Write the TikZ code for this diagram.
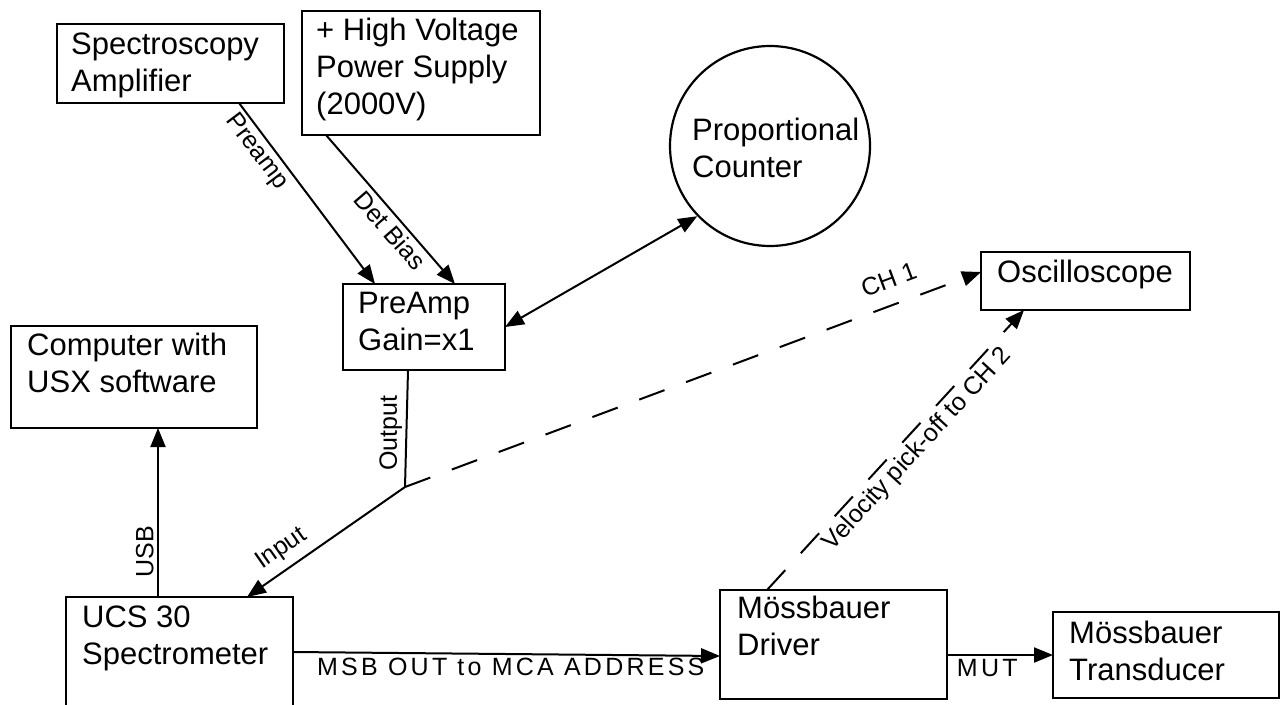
\documentclass[tikz,border=0pt]{standalone}
\usepackage{fontspec}
\setmainfont{Liberation Sans}
\newfontfamily\spacedfont[LetterSpace=13]{Liberation Sans}
\usetikzlibrary{arrows.meta,fit,calc}
\newcommand\topstrut{\rule{0pt}{23pt}}
\begin{document}
\begin{tikzpicture}[x=1pt,y=-1pt,
  box/.style={draw, line width=2.2pt, inner sep=0pt, outer sep=0pt},
  txt/.style={anchor=north west, inner sep=0pt, align=left, font=\fontsize{31}{37}\selectfont},
  conn/.style={line width=2pt},
  arr/.style={conn, -{Triangle[length=19pt,width=15pt]}},
  dbl/.style={conn, {Triangle[length=19pt,width=15pt]}-{Triangle[length=19pt,width=15pt]}},
  dashedline/.style={dash pattern=on 27pt off 23pt},
  lbl/.style={font=\fontsize{25}{30}\selectfont}]
\useasboundingbox (0,0) rectangle (1281,704);
% boxes
\node[box, fit={(57,24) (284,103)}] (spec) {};
\node[txt] (spec-t) at (71,31) {\topstrut Spectroscopy\\Amplifier};
\node[box, fit={(302,11) (540,135)}] (hv) {};
\node[txt] (hv-t) at (316,17) {\topstrut + High Voltage\\Power Supply\\(2000V)};
\node[box, fit={(343,284) (505,370)}] (pre) {};
\node[txt] (pre-t) at (358,290) {\topstrut PreAmp\\Gain=x1};
\node[circle, draw, line width=2.2pt, minimum size=200pt, inner sep=0pt] (pc) at (770,146) {};
\node[txt] (pc-t) at (692,117) {\topstrut Proportional\\Counter};
\node[box, fit={(981,252) (1190,310)}] (osc) {};
\node[txt] (osc-t) at (997,259) {\topstrut Oscilloscope};
\node[box, fit={(11,326) (257,428)}] (comp) {};
\node[txt] (comp-t) at (27,332) {\topstrut Computer with\\USX software};
\node[box, fit={(66,597) (293,720)}] (ucs) {};
\node[txt] (ucs-t) at (82,604) {\topstrut UCS 30\\Spectrometer};
\node[box, fit={(720,590) (947,699)}] (drv) {};
\node[txt] (drv-t) at (737,595) {\topstrut Mössbauer\\Driver};
\node[box, fit={(1053,612) (1279,698)}] (tr) {};
\node[txt] (tr-t) at (1069,620) {\topstrut Mössbauer\\Transducer};
% connectors
\coordinate (j) at (405,487);
\coordinate (usb0) at ($(ucs.north west)+(92,0)$);
\draw[arr] ($(spec.south west)+(182,0)$) -- node[lbl, sloped, below, pos=0.22] (l-pre) {Preamp} ($(pre.north west)+(32,0)$);
\draw[arr] ($(hv.south west)+(24,0)$) -- node[lbl, sloped, below, pos=0.58] (l-det) {Det Bias} ($(pre.north west)+(112,0)$);
\draw[dbl] (pre.east) -- (pc.224);
\draw[conn] ($(pre.south west)+(65,0)$) -- node[lbl, rotate=90, anchor=south, pos=0.54] (l-out) {Output} (j);
\draw[arr] (j) -- node[lbl, sloped, above=4pt, pos=0.71] (l-in) {Input} ($(ucs.north west)+(181,0)$);
\draw[arr] (usb0) -- node[lbl, rotate=90, anchor=south, pos=0.27] (l-usb) {USB} (usb0 |- comp.south);
\draw[arr, dashedline] (j) -- node[lbl, sloped, above=12pt, pos=0.855] (l-ch1) {CH 1} ($(osc.north west)+(0,20)$);
\draw[arr, dashedline] ($(drv.north west)+(47,0)$) -- node[lbl, sloped, below, pos=0.54] (l-vel) {Velocity pick-off to CH 2} ($(osc.south west)+(43,0)$);
\draw[arr] ($(ucs.north east)+(0,55)$) -- node[lbl, below, pos=0.51] (l-msb) {\spacedfont MSB OUT to MCA ADDRESS} ($(drv.north west)+(0,66)$);
\draw[arr] (drv.east |- tr.west) -- node[lbl, below, pos=0.38] (l-mut) {\spacedfont MUT} (tr.west);
\end{tikzpicture}
\end{document}
